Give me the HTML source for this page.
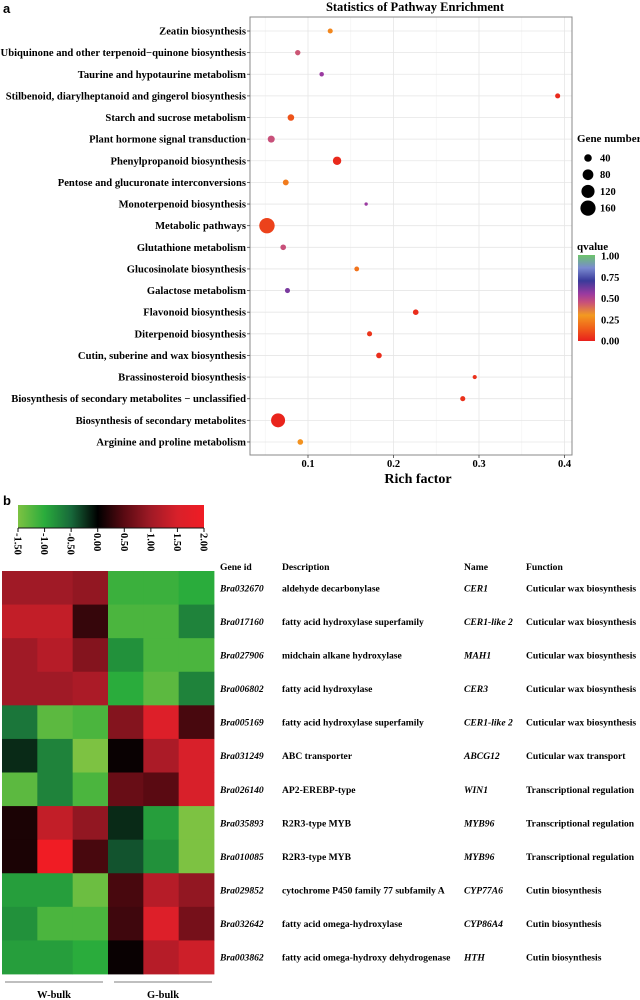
<!DOCTYPE html>
<html><head><meta charset="utf-8">
<style>
html,body{margin:0;padding:0;background:#fff;}
svg{display:block;font-family:"Liberation Serif",serif;}
</style></head>
<body>
<svg id="fig" width="640" height="1000" viewBox="0 0 640 1000" xmlns="http://www.w3.org/2000/svg">
<defs>
<linearGradient id="qgrad" x1="0" y1="1" x2="0" y2="0">
<stop offset="0" stop-color="#e8201c"/>
<stop offset="0.15" stop-color="#f0601a"/>
<stop offset="0.3" stop-color="#f39a20"/>
<stop offset="0.45" stop-color="#c8507a"/>
<stop offset="0.55" stop-color="#9a3aa0"/>
<stop offset="0.7" stop-color="#3a3a9a"/>
<stop offset="0.85" stop-color="#7a8ad0"/>
<stop offset="1" stop-color="#6cc46a"/>
</linearGradient>
<linearGradient id="hgrad" x1="0" y1="0" x2="1" y2="0">
<stop offset="0" stop-color="#7dc242"/>
<stop offset="0.143" stop-color="#2aac3c"/>
<stop offset="0.286" stop-color="#17683a"/>
<stop offset="0.429" stop-color="#000000"/>
<stop offset="0.571" stop-color="#5a0a12"/>
<stop offset="0.714" stop-color="#a01a26"/>
<stop offset="0.857" stop-color="#d8202a"/>
<stop offset="1" stop-color="#f01c24"/>
</linearGradient>
</defs>
<g id="panelA"></g>
<g id="panelB"></g>
</svg>
<script>
// ---- Panel A data ----
const pathways = ["Zeatin biosynthesis","Ubiquinone and other terpenoid\u2212quinone biosynthesis","Taurine and hypotaurine metabolism","Stilbenoid, diarylheptanoid and gingerol biosynthesis","Starch and sucrose metabolism","Plant hormone signal transduction","Phenylpropanoid biosynthesis","Pentose and glucuronate interconversions","Monoterpenoid biosynthesis","Metabolic pathways","Glutathione metabolism","Glucosinolate biosynthesis","Galactose metabolism","Flavonoid biosynthesis","Diterpenoid biosynthesis","Cutin, suberine and wax biosynthesis","Brassinosteroid biosynthesis","Biosynthesis of secondary metabolites \u2212 unclassified","Biosynthesis of secondary metabolites","Arginine and proline metabolism"];
const richFactor = [0.126,0.088,0.116,0.392,0.080,0.057,0.134,0.074,0.168,0.052,0.071,0.157,0.076,0.226,0.172,0.183,0.295,0.281,0.065,0.091];
const geneNumber = [18,20,14,18,30,34,49,24,8,165,22,16,18,22,18,22,12,18,136,22];
const qvalue = [0.25,0.44,0.55,0.02,0.12,0.45,0.02,0.22,0.55,0.08,0.45,0.20,0.60,0.03,0.05,0.03,0.04,0.04,0.01,0.28];
const xTicks = [0.1,0.2,0.3,0.4];
const xMinor = [0.05,0.15,0.25,0.35];
const sizeBreaks = [40,80,120,160];
const qTicks = ["0.00","0.25","0.50","0.75","1.00"];

// ---- Panel B data ----
const geneIds = ["Bra032670","Bra017160","Bra027906","Bra006802","Bra005169","Bra031249","Bra026140","Bra035893","Bra010085","Bra029852","Bra032642","Bra003862"];
const descriptions = ["aldehyde decarbonylase","fatty acid hydroxylase superfamily","midchain alkane hydroxylase","fatty acid hydroxylase","fatty acid hydroxylase superfamily","ABC transporter","AP2-EREBP-type","R2R3-type MYB","R2R3-type MYB","cytochrome P450 family 77 subfamily A","fatty acid omega-hydroxylase","fatty acid omega-hydroxy dehydrogenase"];
const geneNames = ["CER1","CER1-like 2","MAH1","CER3","CER1-like 2","ABCG12","WIN1","MYB96","MYB96","CYP77A6","CYP86A4","HTH"];
const functions = ["Cuticular wax biosynthesis","Cuticular wax biosynthesis","Cuticular wax biosynthesis","Cuticular wax biosynthesis","Cuticular wax biosynthesis","Cuticular wax transport","Transcriptional regulation","Transcriptional regulation","Transcriptional regulation","Cutin biosynthesis","Cutin biosynthesis","Cutin biosynthesis"];
const samples = ["W1","W2","W3","G1","G2","G3"];
const expr = [
 [1.0,1.0,0.9,-1.1,-1.1,-1.0],
 [1.3,1.3,0.3,-1.2,-1.2,-0.7],
 [1.0,1.2,0.8,-0.8,-1.2,-1.2],
 [1.0,1.0,1.1,-1.0,-1.3,-0.7],
 [-0.6,-1.3,-1.2,0.8,1.6,0.4],
 [-0.2,-0.7,-1.5,0.05,1.1,1.5],
 [-1.3,-0.7,-1.2,0.6,0.5,1.5],
 [0.15,1.3,0.9,-0.2,-0.9,-1.5],
 [0.15,2.0,0.4,-0.4,-0.8,-1.5],
 [-0.9,-0.9,-1.4,0.4,1.2,0.9],
 [-0.8,-1.2,-1.2,0.35,1.6,0.7],
 [-0.9,-0.9,-1.0,0.05,1.2,1.4]
];
const colorTicks = ["-1.50","-1.00","-0.50","0.00","0.50","1.00","1.50","2.00"];

const NS="http://www.w3.org/2000/svg";
function mk(tag,attrs,parent,text){const e=document.createElementNS(NS,tag);for(const k in attrs)e.setAttribute(k,attrs[k]);if(text!==undefined)e.textContent=text;parent.appendChild(e);return e;}

// ---- Panel A ----
const A=document.getElementById('panelA');
const L=250,R=572,T=17,B=455;
const xs=v=>222.5+855*v;
const ys=i=>31+i*21.63;
const rs=n=>0.6*Math.sqrt(n);
function lerp(a,b,t){return a+(b-a)*t;}
const qStops=[[0,[232,32,28]],[0.15,[240,96,26]],[0.3,[243,154,32]],[0.45,[200,80,122]],[0.55,[154,58,160]],[0.7,[58,58,154]],[0.85,[122,138,208]],[1,[108,196,106]]];
function qcol(q){for(let i=0;i<qStops.length-1;i++){const a=qStops[i],b=qStops[i+1];if(q<=b[0]){const t=(q-a[0])/(b[0]-a[0]);return 'rgb('+a[1].map((c,j)=>Math.round(lerp(c,b[1][j],t))).join(',')+')';}}return 'rgb(108,196,106)';}

let t=mk('text',{x:3,y:13,'font-family':'Liberation Sans,sans-serif','font-weight':'bold','font-size':13},A,'a');

t=mk('text',{x:415,y:11,'text-anchor':'middle','font-weight':'bold','font-size':12.5},A,'Statistics of Pathway Enrichment');


const grid=mk('g',{},A);
xMinor.forEach(v=>{mk('line',{x1:xs(v),x2:xs(v),y1:T,y2:B,stroke:'#f2f2f2','stroke-width':0.6},grid);});
xTicks.forEach(v=>{mk('line',{x1:xs(v),x2:xs(v),y1:T,y2:B,stroke:'#e6e6e6','stroke-width':0.8},grid);});
pathways.forEach((p,i)=>{mk('line',{x1:L,x2:R,y1:ys(i),y2:ys(i),stroke:'#e6e6e6','stroke-width':0.8},grid);});
let fr=mk('rect',{x:L,y:T,width:R-L,height:B-T,fill:'none',stroke:'#888','stroke-width':1},A);


const yl=mk('g',{},A);
pathways.forEach((p,i)=>{
 const e=mk('text',{x:L-4,y:ys(i)+3.5,'text-anchor':'end','font-weight':'bold','font-size':10.6},yl,p);
 
 mk('line',{x1:L-3,x2:L,y1:ys(i),y2:ys(i),stroke:'#444','stroke-width':0.8},yl);
});
const xl=mk('g',{},A);
xTicks.forEach(v=>{
 mk('line',{x1:xs(v),x2:xs(v),y1:B,y2:B+3,stroke:'#444','stroke-width':0.8},xl);
 const e=mk('text',{x:xs(v),y:467,'text-anchor':'middle','font-weight':'bold','font-size':10.5},xl,String(v));
 
});
t=mk('text',{x:418,y:483,'text-anchor':'middle','font-weight':'bold','font-size':14},A,'Rich factor');


const pts=mk('g',{},A);
pathways.forEach((p,i)=>{
 const c=mk('circle',{cx:xs(richFactor[i]),cy:ys(i),r:rs(geneNumber[i]),fill:qcol(qvalue[i])},pts);
 
});

// legends
const lg=mk('g',{},A);
mk('text',{x:577,y:142,'font-weight':'bold','font-size':11},lg,'Gene number');
sizeBreaks.forEach((s,i)=>{
 const yy=158+i*16.7;
 const c=mk('circle',{cx:588,cy:yy,r:rs(s),fill:'#000'},lg);
 
 mk('text',{x:600,y:yy+3.5,'font-weight':'bold','font-size':10.5},lg,String(s));
});
const qg=mk('g',{},A);
mk('text',{x:577,y:250,'font-weight':'bold','font-size':11},qg,'qvalue');
const qb=mk('rect',{x:578,y:255,width:17,height:86,fill:'url(#qgrad)'},qg);

qTicks.forEach((q,i)=>{
 const yy=341-i*21.2;
 mk('text',{x:601,y:yy+3.5,'font-weight':'bold','font-size':10.5},qg,q);
});

// ---- Panel B ----
const Bp=document.getElementById('panelB');
t=mk('text',{x:3,y:505,'font-family':'Liberation Sans,sans-serif','font-weight':'bold','font-size':13},Bp,'b');

const cb=mk('g',{},Bp);
mk('rect',{x:18,y:505,width:186,height:23,fill:'url(#hgrad)'},cb);
mk('line',{x1:18,x2:204,y1:528,y2:528,stroke:'#111','stroke-width':1},cb);
colorTicks.forEach((s,i)=>{
 const xx=18+i*186/7;
 mk('line',{x1:xx,x2:xx,y1:528,y2:532,stroke:'#111','stroke-width':1},cb);
 const e=mk('text',{x:0,y:0,'font-weight':'bold','font-size':10.5,transform:'translate('+(xx-3.5)+',533) rotate(90)'},cb,s);
 
});
const hStops=[[-1.5,[125,194,66]],[-1.0,[42,172,60]],[-0.5,[23,104,58]],[0,[0,0,0]],[0.5,[90,10,18]],[1.0,[160,26,38]],[1.5,[216,32,42]],[2.0,[240,28,36]]];
function hcol(v){if(v<=-1.5)return 'rgb(125,194,66)';for(let i=0;i<hStops.length-1;i++){const a=hStops[i],b=hStops[i+1];if(v<=b[0]){const tt=(v-a[0])/(b[0]-a[0]);return 'rgb('+a[1].map((c,j)=>Math.round(lerp(c,b[1][j],tt))).join(',')+')';}}return 'rgb(240,28,36)';}
const HX=2,HY=571,HW=212,HH=403;
const cw=HW/samples.length,ch=HH/geneIds.length;
const hm=mk('g',{},Bp);
expr.forEach((row,r)=>{row.forEach((v,c)=>{
 const e=mk('rect',{x:HX+c*cw,y:HY+r*ch,width:cw+0.4,height:ch+0.4,fill:hcol(v)},hm);
 
});});
const gl=mk('g',{},Bp);
mk('line',{x1:5,x2:103,y1:982,y2:982,stroke:'#999','stroke-width':1.2},gl);
mk('line',{x1:114,x2:212,y1:982,y2:982,stroke:'#999','stroke-width':1.2},gl);
mk('text',{x:54,y:998,'text-anchor':'middle','font-weight':'bold','font-size':10.5},gl,'W-bulk');
mk('text',{x:163,y:998,'text-anchor':'middle','font-weight':'bold','font-size':10.5},gl,'G-bulk');

const tb=mk('g',{},Bp);
const cols=[220,282,464,526];
["Gene id","Description","Name","Function"].forEach((h,i)=>{
 const e=mk('text',{x:cols[i],y:570,'font-weight':'bold','font-size':9.6},tb,h);
 
});
geneIds.forEach((g,r)=>{
 const yy=HY+(r+0.5)*ch+3.5;
 mk('text',{x:cols[0],y:yy,'font-weight':'bold','font-style':'italic','font-size':9.6},tb,g);
 mk('text',{x:cols[1],y:yy,'font-weight':'bold','font-size':9.6},tb,descriptions[r]);
 mk('text',{x:cols[2],y:yy,'font-weight':'bold','font-style':'italic','font-size':9.6},tb,geneNames[r]);
 mk('text',{x:cols[3],y:yy,'font-weight':'bold','font-size':9.6},tb,functions[r]);
});
</script>
</body></html>
